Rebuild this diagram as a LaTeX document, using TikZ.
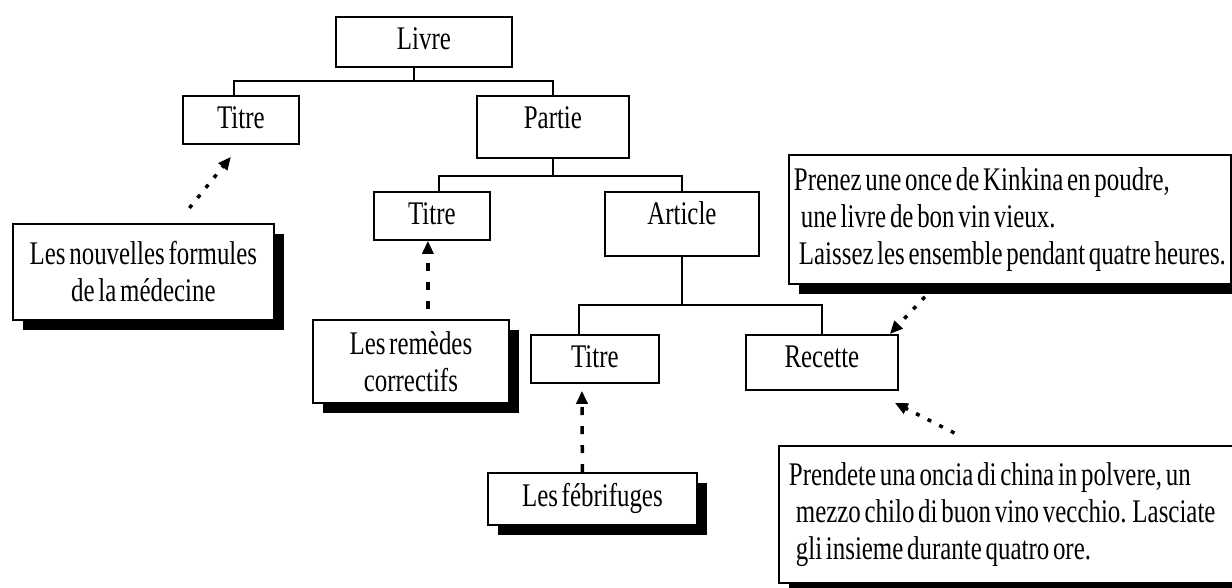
\documentclass[tikz,border=0pt]{standalone}
\usepackage{fontspec}
\setmainfont{Liberation Serif}[FakeStretch=0.755, WordSpace=0.6]
\usetikzlibrary{arrows.meta,shadows}
\newcommand\fontspaces{\spaceskip=0pt\xspaceskip=0pt\relax}

\begin{document}
\begin{tikzpicture}[x=1pt, y=-1pt, every node/.style={font=\fontsize{33}{37}\selectfont},
	box/.style={draw, line width=1.8pt, inner sep=0pt, text height=33pt, anchor=north west},
	note/.style={draw, line width=1.8pt, fill=white, inner sep=0pt, anchor=north west, drop shadow={shadow xshift=10pt, shadow yshift=-10pt, fill=black, opacity=1}},
	link/.style={line width=1.8pt},
	dots/.style={-{Triangle[length=13pt,width=11pt]}, line width=3.5pt, dash pattern=on 4pt off 9pt},
	dashes/.style={-{Triangle[length=13pt,width=11pt]}, line width=3.5pt, dash pattern=on 8pt off 11pt}]
	\useasboundingbox (0,0) rectangle (1232,587);
	\clip (0,0) rectangle (1232,587);
	\node[box, minimum width=176pt, text depth=17pt] (livre) at (335,16) {Livre};
	\node[box, minimum width=116pt, text depth=15pt] (titreA) at (182,95) {Titre};
	\node[box, minimum width=152pt, text depth=29pt] (partie) at (476,95) {Partie};
	\node[box, minimum width=116pt, text depth=15pt] (titreB) at (373,191) {Titre};
	\node[box, minimum width=154pt, text depth=31pt] (article) at (604,191) {Article};
	\node[box, minimum width=128pt, text depth=15pt] (titreC) at (530,334) {Titre};
	\node[box, minimum width=152pt, text depth=22pt] (recette) at (745,334) {Recette};
	\draw[link] ([xshift=-10pt]livre.south) -- ++(0,13) -| ([xshift=-7pt]titreA.north);
	\draw[link] ([xshift=-10pt]livre.south) -- ++(0,13) -| (partie.north);
	\draw[link] (partie.south) -- ++(0,17) -| ([xshift=7pt]titreB.north);
	\draw[link] (partie.south) -- ++(0,17) -| (article.north);
	\draw[link] (article.south) -- ++(0,48) -| ([xshift=-16pt]titreC.north);
	\draw[link] (article.south) -- ++(0,48) -| (recette.north);
	\node[note, minimum width=261pt, minimum height=96pt, align=center] (notaA) at (12,223) {Les nouvelles formules\\de la médecine};
	\node[note, minimum width=196pt, minimum height=83pt, align=center] (notaB) at (312,319) {Les remèdes\\correctifs};
	\node[note, minimum width=209pt, minimum height=52pt] (notaC) at (487,472) {Les fébrifuges};
	\node[note, minimum height=129pt, inner xsep=5pt, text width=432pt, align=left] (notaD) at (788,154) {\fontspaces Prenez une once de Kinkina en poudre,\\\hspace*{7pt}une livre de bon vin vieux.\\\hspace*{5pt}Laissez les ensemble pendant quatre heures.};
	\node[note, minimum height=137pt, inner xsep=10pt, text width=435pt, align=left] (notaE) at (778,445) {\fontspaces Prendete una oncia di china in polvere, un\\\hspace*{7pt}mezzo chilo di buon vino vecchio. Lasciate\\\hspace*{7pt}gli insieme durante quatro ore.};
	\draw[dots] ([shift={(46pt,15pt)}]notaA.north) -- ([shift={(-10pt,-12pt)}]titreA.south);
	\draw[dashes] ([shift={(17pt,10pt)}]notaB.north) -- ([xshift=-4pt]titreB.south);
	\draw[dashes] ([xshift=-10pt]notaC.north) -- ([shift={(-13pt,-7pt)}]titreC.south);
	\draw[dots] ([shift={(-85pt,-12pt)}]notaD.south) -- ([xshift=-9pt]recette.north east);
	\draw[dots] ([shift={(-52pt,12pt)}]notaE.north) -- ([shift={(-4pt,-12pt)}]recette.south east);
\end{tikzpicture}
\end{document}
